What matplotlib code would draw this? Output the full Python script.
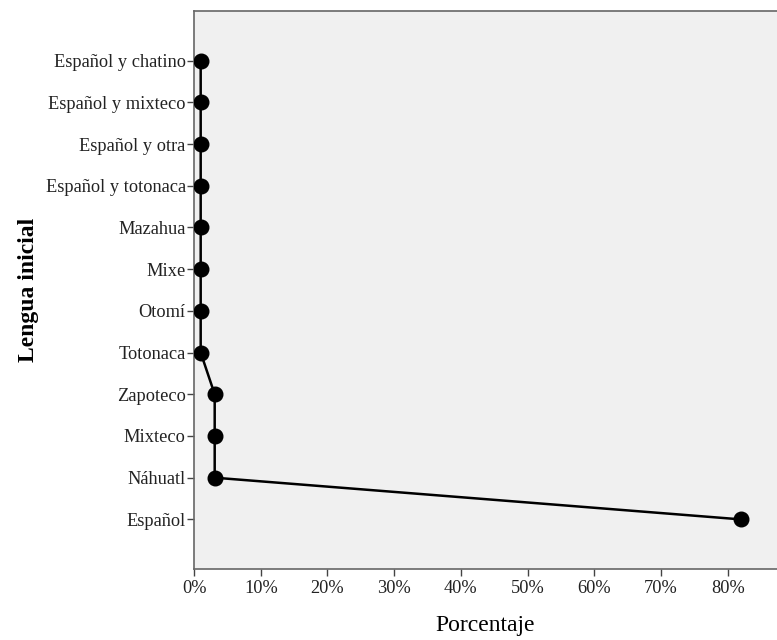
import matplotlib
matplotlib.use('agg')
import matplotlib.pyplot as plt
from matplotlib.ticker import FuncFormatter

# categorias de abajo hacia arriba
lenguas = ['Español', 'Náhuatl', 'Mixteco', 'Zapoteco', 'Totonaca', 'Otomí',
           'Mixe', 'Mazahua', 'Español y totonaca', 'Español y otra',
           'Español y mixteco', 'Español y chatino']
porcentaje = [82.0, 3.1, 3.1, 3.1, 1.0, 1.0, 1.0, 1.0, 1.0, 1.0, 1.0, 1.0]
xticks = [0, 10, 20, 30, 40, 50, 60, 70, 80]

plt.rcParams['font.family'] = ['Liberation Serif', 'DejaVu Serif']

fig = plt.figure(figsize=(7.77, 6.40), dpi=100)
ax = fig.add_axes([0.2497, 0.1109, 0.7503, 0.8719])
ax.set_facecolor('#f0f0f0')

ypos = list(range(len(lenguas)))
ax.plot(porcentaje, ypos, color='black', lw=1.8, marker='o', ms=10.5,
        markerfacecolor='black', markeredgecolor='black', zorder=3)

ax.set_xlim(0, 87.4)
ax.set_ylim(-1.19, len(lenguas) - 1 + 1.19)
ax.set_yticks(ypos)
ax.set_yticklabels(lenguas)
ax.set_xticks(xticks)
ax.xaxis.set_major_formatter(FuncFormatter(lambda v, p: '%d%%' % v))

for s in ['left', 'bottom', 'top']:
    ax.spines[s].set_color('#666666')
    ax.spines[s].set_linewidth(1.2)
ax.spines['right'].set_visible(False)

ax.tick_params(axis='both', direction='out', length=5, width=1,
               color='#444444', labelsize=13.2, labelcolor='#222222', pad=1)
ax.tick_params(axis='x', pad=3)

ax.set_xlabel('Porcentaje', fontsize=17, labelpad=13)
ax.set_ylabel('Lengua inicial', fontsize=17, fontweight='bold', labelpad=5)

fig.savefig('out.png', dpi=100)
